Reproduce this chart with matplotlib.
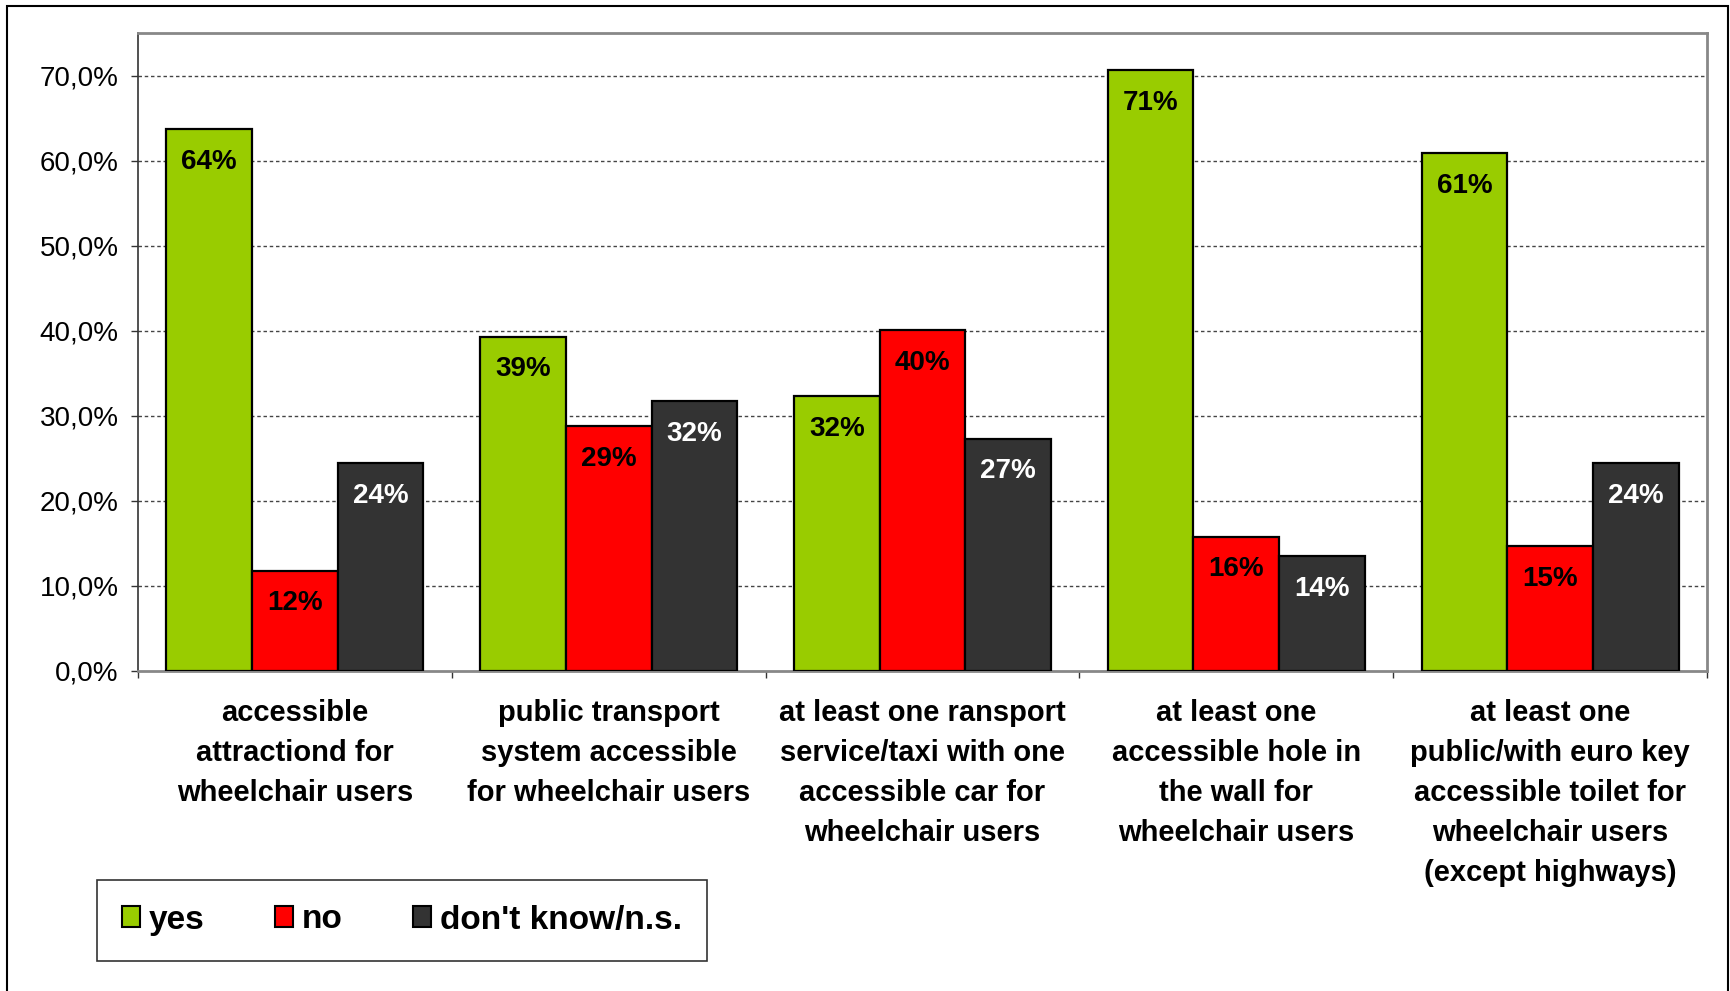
import numpy as np
import matplotlib
matplotlib.use("Agg")
import matplotlib.pyplot as plt
from matplotlib.patches import Rectangle, Patch
from matplotlib.ticker import FuncFormatter, FixedLocator

plt.rcParams['font.family'] = ['Liberation Sans', 'DejaVu Sans']

categories = ["accessible\nattractiond for\nwheelchair users",
              "public transport\nsystem accessible\nfor wheelchair users",
              "at least one ransport\nservice/taxi with one\naccessible car for\nwheelchair users",
              "at least one\naccessible hole in\nthe wall for\nwheelchair users",
              "at least one\npublic/with euro key\naccessible toilet for\nwheelchair users\n(except highways)"]
series_names = ["yes", "no", "don't know/n.s."]
yes = [63.7, 39.3, 32.3, 70.6, 60.9]
no = [11.8, 28.8, 40.1, 15.8, 14.7]
dont_know = [24.4, 31.7, 27.3, 13.5, 24.4]
colors = ['#99CC00', '#FF0000', '#333333']
label_colors = ['black', 'black', 'white']

fig = plt.figure(figsize=(17.3, 9.91), dpi=100)
ax = fig.add_axes([138/1730, 1 - 671/991, (1707-138)/1730, (671-33)/991])

x = np.arange(len(categories))
w = 0.273
for i, (vals, name) in enumerate(zip([yes, no, dont_know], series_names)):
    bars = ax.bar(x + (i - 1) * w, vals, width=w, color=colors[i], edgecolor='black',
                  linewidth=1.6, label=name, zorder=3)
    for b, v in zip(bars, vals):
        ax.annotate(f"{v:.0f}%", (b.get_x() + b.get_width() / 2, v),
                    xytext=(0, -23.5), textcoords='offset points', ha='center', va='center',
                    fontsize=20, fontweight='bold', color=label_colors[i], zorder=4)

ax.set_xlim(-0.5, 4.5)
ax.set_ylim(0, 75)
ax.yaxis.set_major_locator(FixedLocator(np.arange(0, 71, 10)))
ax.yaxis.set_major_formatter(FuncFormatter(lambda v, p: f"{v:.1f}%".replace('.', ',')))
ax.tick_params(axis='y', labelsize=20, direction='out', length=5, width=1, color='#333333', pad=9)

ax.set_xticks(x)
ax.set_xticklabels(categories, fontsize=21, fontweight='bold', linespacing=1.55)
ax.set_xticks(np.arange(-0.5, 5, 1), minor=True)
ax.tick_params(axis='x', which='major', length=0, pad=20)
ax.tick_params(axis='x', which='minor', direction='out', length=5, width=1, color='#333333')

for yv in range(10, 71, 10):
    ax.axhline(yv, color='#444444', linewidth=1, linestyle=(0, (2.5, 2)), zorder=1)

ax.spines['left'].set_color('#333333')
ax.spines['left'].set_linewidth(1.2)
for s in ['top', 'right', 'bottom']:
    ax.spines[s].set_color('#888888')
    ax.spines[s].set_linewidth(2)

handles = [Patch(facecolor=c, edgecolor='black', linewidth=1.5) for c in colors]
leg = fig.legend(handles, series_names, loc='center', bbox_to_anchor=(402/1730, 1 - 920/991),
                 ncol=3, frameon=True, fancybox=False, prop={'weight': 'bold', 'size': 24},
                 handlelength=0.55, handleheight=0.6, handletextpad=0.27, columnspacing=2.1,
                 borderpad=0.75)
leg.get_frame().set_edgecolor('black')
leg.get_frame().set_linewidth(1.2)

fig.patches.append(Rectangle((7/1730, -0.01), (1728-7)/1730, 1.01 - 6/991, transform=fig.transFigure,
                             fill=False, edgecolor='black', linewidth=1.5))

fig.savefig("out.png", dpi=100)
